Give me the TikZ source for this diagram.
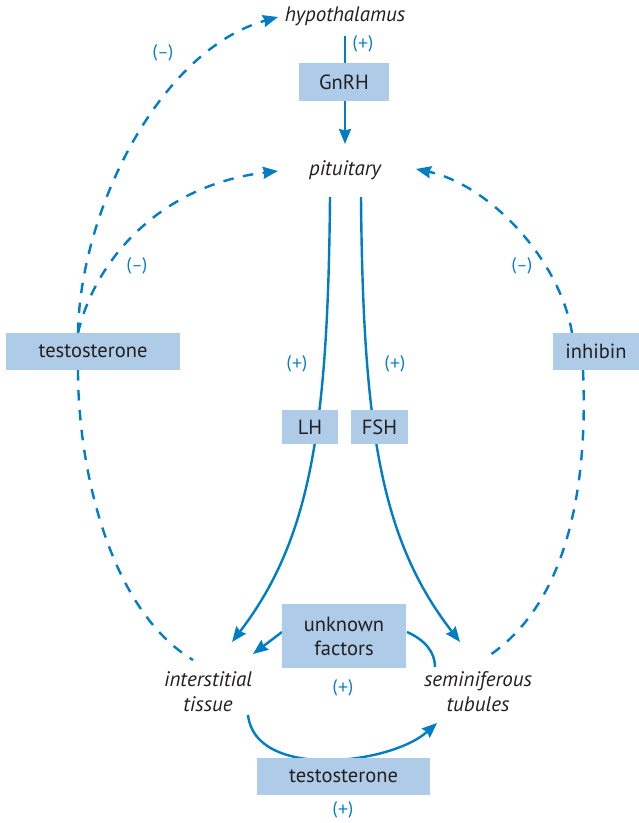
\documentclass[tikz,border=0pt]{standalone}
\usepackage{fontspec}
\setmainfont{PT Sans}
\newfontfamily\signfont{Lato}
\usetikzlibrary{arrows.meta}
\definecolor{lineblue}{RGB}{0,125,197}
\definecolor{boxblue}{RGB}{174,203,232}
\definecolor{txt}{RGB}{35,31,32}
\tikzset{
  box/.style={fill=boxblue, draw=none, inner sep=0pt, text=txt, font=\fontsize{20.5}{24}\selectfont, align=center},
  organ/.style={inner sep=0pt, text=txt, font=\fontsize{21}{25}\selectfont\itshape, align=center},
  sign/.style={inner sep=0pt, text=lineblue, font=\signfont\fontsize{18}{20}\selectfont},
  conn/.style={draw=lineblue, line width=2.4pt},
  dconn/.style={conn, dash pattern=on 10.5pt off 9.5pt},
  tip/.style={-{Stealth[length=15pt,width=12pt,inset=1.5pt]}}
}
\begin{document}
\begin{tikzpicture}[x=1pt,y=-1pt]
\useasboundingbox (0,0) rectangle (639,823);
% organ labels
\node[organ] (hyp) at (345,16) {hypothalamus};
\node[organ] (pit) at (345,170) {pituitary};
\node[organ] (int) at (208,692) {interstitial\\tissue};
\node[organ] (sem) at (478,692) {seminiferous\\tubules};
% coordinates for connector ends
\coordinate (hypB) at (345,36);
\coordinate (hypL) at (278,17);
\coordinate (pitL) at (278,171);
\coordinate (pitR) at (416,169);
\coordinate (pitB1) at (330,197);
\coordinate (pitB2) at (361,197);
\coordinate (intT) at (232,642);
\coordinate (intTL) at (193,660);
\coordinate (intR) at (253,654);
\coordinate (intB) at (248,715);
\coordinate (semT) at (460,642);
\coordinate (semTR) at (490,655);
\coordinate (semTL) at (435,667);
\coordinate (semB) at (437,723);
\coordinate (tlT) at (78,333);
\coordinate (tlB) at (78,370);
\coordinate (inT) at (572,333);
\coordinate (inB) at (583,370);
\coordinate (ufL) at (282,632);
\coordinate (ufR) at (407,632);
% connectors (drawn behind boxes)
\draw[conn] (hypB) -- (345,63);
\draw[conn,tip] (345,101) -- (345,144);
\draw[dconn,tip] (tlT) .. controls (80,210) and (160,50) .. (hypL);
\draw[dconn,tip] (tlT) .. controls (95,260) and (160,185) .. (pitL);
\draw[dconn] (tlB) .. controls (78,470) and (110,610) .. (intTL);
\draw[conn,tip] (pitB1) .. controls (328,430) and (310,540) .. (intT);
\draw[conn,tip] (pitB2) .. controls (363,430) and (381,540) .. (semT);
\draw[dconn] (inB) .. controls (588,480) and (570,600) .. (semTR);
\draw[dconn,tip] (inT) .. controls (560,260) and (490,185) .. (pitR);
\draw[conn,tip] (ufL) -- (intR);
\draw[conn] (ufR) .. controls (425,640) and (435,652) .. (semTL);
\draw[conn,tip] (intB) .. controls (255,780) and (390,765) .. (semB);
% boxes
\node[box, minimum width=90pt, minimum height=38pt] (gnrh) at (344,82) {GnRH};
\node[box, minimum width=174pt, minimum height=37pt] (testL) at (93,351.5) {testosterone};
\node[box, minimum width=86pt, minimum height=37pt] (inh) at (596,351.5) {inhibin};
\node[box, minimum width=56pt, minimum height=34pt] (lh) at (310,427) {LH};
\node[box, minimum width=57pt, minimum height=34pt] (fsh) at (379.5,427) {FSH};
\node[box, minimum width=124pt, minimum height=64pt] (uf) at (344,636) {unknown\\factors};
\node[box, minimum width=173pt, minimum height=37pt] (testB) at (343.5,776.5) {testosterone};
% signs
\node[sign] (s1) at (363,44) {(+)};
\node[sign] (s2) at (163,53) {(–)};
\node[sign] (s3) at (137,266) {(–)};
\node[sign] (s4) at (522,266) {(–)};
\node[sign] (s5) at (297,364) {(+)};
\node[sign] (s6) at (395,364) {(+)};
\node[sign] (s7) at (343,688) {(+)};
\node[sign] (s8) at (343,810) {(+)};
\end{tikzpicture}
\end{document}
